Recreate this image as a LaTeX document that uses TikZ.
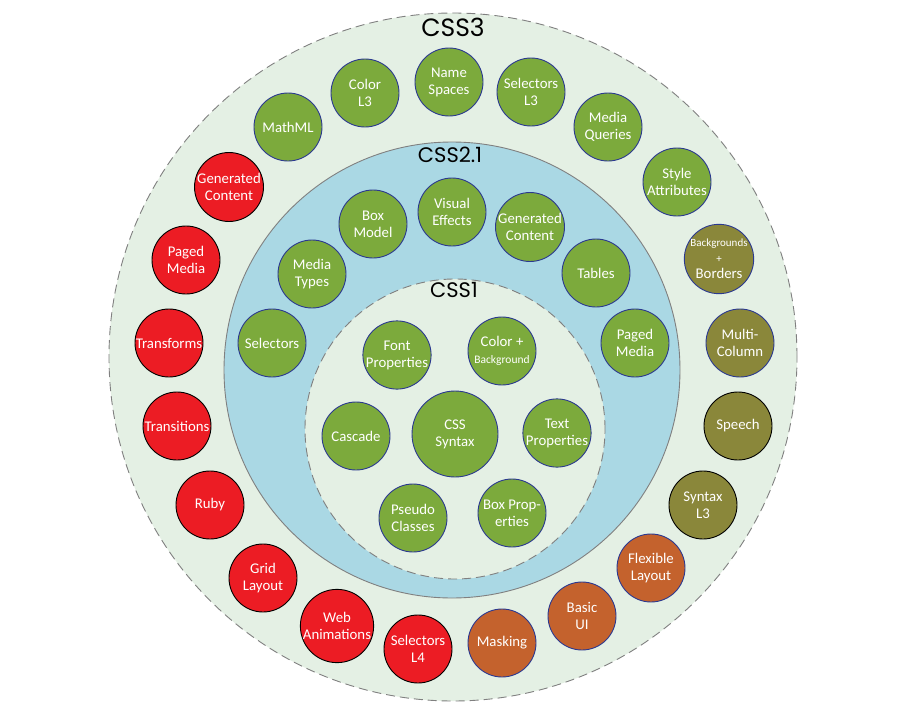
\documentclass[tikz,border=0pt]{standalone}
\usepackage{fontspec}
\setmainfont{Carlito}
\newfontfamily\titlefont{Poppins}
\definecolor{cgreen}{RGB}{124,170,60}
\definecolor{colive}{RGB}{138,135,58}
\definecolor{cred}{RGB}{236,28,36}
\definecolor{corange}{RGB}{196,98,45}
\definecolor{cborder}{RGB}{43,57,144}
\definecolor{cbg}{RGB}{228,240,228}
\definecolor{cblue}{RGB}{170,216,228}
\definecolor{cgray}{RGB}{128,128,128}
\tikzset{
  ball/.style={circle, minimum size=68pt, inner sep=0pt, line width=0.9pt, text=white, align=center,
    font=\fontsize{14.8}{17}\selectfont},
  gball/.style={ball, fill=cgreen, draw=cborder},
  oball/.style={ball, fill=colive, draw=cborder},
  okball/.style={ball, fill=colive, draw=black},
  rball/.style={ball, fill=cred, draw=black},
  orball/.style={ball, fill=corange, draw=cborder},
  ring/.style={circle, inner sep=0pt, draw=cgray, line width=0.9pt},
  ringtitle/.style={font=\titlefont\fontsize{21}{21}\selectfont, text=black},
}
\begin{document}
\begin{tikzpicture}[x=1pt,y=-1pt]
\useasboundingbox (0,0) rectangle (900,720);
\fill[white] (0,0) rectangle (900,720);
% rings
\node[ring, fill=cbg, minimum size=688pt, dash pattern=on 9pt off 5pt] (css3) at (453,357) {};
\node[ring, fill=cblue, minimum size=456pt] (css21) at (452,370) {};
\node[ring, fill=cbg, minimum size=300pt, dash pattern=on 9pt off 5pt] (css1) at (455,429) {};
\node[ringtitle, font=\titlefont\fontsize{25}{25}\selectfont] (t3) at (453,27) {CSS3};
\node[ringtitle] (t21) at (450,155) {CSS2.1};
\node[ringtitle] (t1) at (454,290) {CSS1};
% CSS3 ring
\node[gball] (colorl3) at (365,93) {Color\\L3};
\node[gball] (namespaces) at (449,82) {Name\\Spaces};
\node[gball] (selectorsl3) at (531,92) {Selectors\\L3};
\node[gball] (mediaq) at (608,127) {Media\\Queries};
\node[gball] (styleattr) at (677,182) {Style\\Attributes};
\node[oball] (bgborders) at (719,259) {{\fontsize{11}{12}\selectfont Backgrounds}\\[-1pt]{\fontsize{11}{12}\selectfont +}\\[-1pt]Borders};
\node[oball] (multicol) at (740,343) {Multi-\\Column};
\node[okball] (speech) at (738,426) {Speech};
\node[okball] (syntaxl3) at (703,505) {Syntax\\L3};
\node[orball] (flexible) at (651,568) {Flexible\\Layout};
\node[orball] (basicui) at (582,616) {Basic\\UI};
\node[orball] (masking) at (502,643) {Masking};
\node[rball] (selectorsl4) at (418,649) {Selectors\\L4};
\node[rball] (webanim) at (337,626) {Web\\Animations};
\node[rball] (grid) at (263,578) {Grid\\Layout};
\node[rball] (ruby) at (210,505) {Ruby};
\node[rball] (transitions) at (177,426) {Transitions};
\node[rball] (transforms) at (169,343) {Transforms};
\node[rball] (pagedred) at (186,260) {Paged\\Media};
\node[rball] (genred) at (229,187) {Generated\\Content};
\node[gball] (mathml) at (288,127) {MathML};
% CSS2.1 ring
\node[gball] (boxmodel) at (373,224) {Box\\Model};
\node[gball] (visual) at (452,212) {Visual\\Effects};
\node[gball] (gengreen) at (530,227) {Generated\\Content};
\node[gball] (tables) at (596,273) {Tables};
\node[gball] (pagedgreen) at (635,343) {Paged\\Media};
\node[gball] (mediatypes) at (312,274) {Media\\Types};
\node[gball] (selectors) at (272,343) {Selectors};
% CSS1
\node[gball] (fontprop) at (397,355) {Font\\Properties};
\node[gball] (colorbg) at (502,351) {Color +\\{\fontsize{11.5}{12}\selectfont Background}};
\node[gball] (cascade) at (356,436) {Cascade};
\node[gball, minimum size=86pt] (csssyntax) at (455,434) {CSS\\Syntax};
\node[gball] (textprop) at (557,433) {Text\\Properties};
\node[gball] (pseudo) at (413,518) {Pseudo\\Classes};
\node[gball] (boxprop) at (512,513) {Box Prop-\\erties};
\end{tikzpicture}
\end{document}
